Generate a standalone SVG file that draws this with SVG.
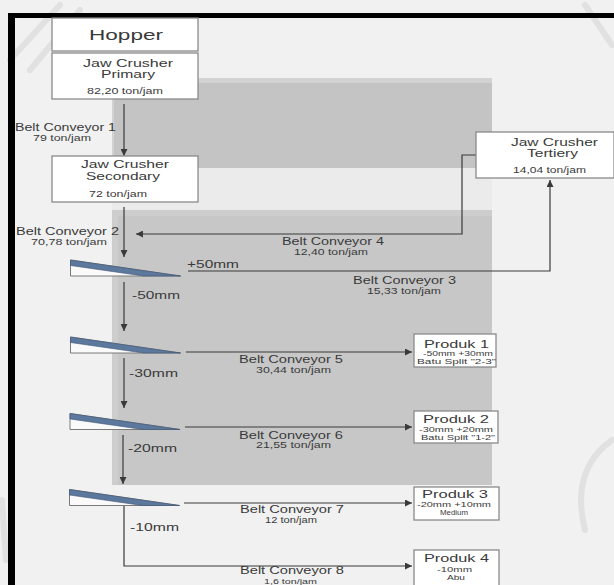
<svg xmlns="http://www.w3.org/2000/svg" width="614" height="585" viewBox="0 0 614 585">
<defs>
<style>
text{font-family:"Liberation Sans",Arial,sans-serif;fill:#3a3a3a;}
.box{fill:#fff;stroke:#8a8a8a;stroke-width:1.3;}
.ln{fill:none;stroke:#3a3a3a;stroke-width:1.2;}
.t1{font-size:15.5px;}
.t2{font-size:11.5px;}
.t3{font-size:8.5px;}
.t4{font-size:10px;}
.t5{font-size:10.5px;}
.t6{font-size:11px;}
.t7{font-size:8px;}
.deco{fill:none;stroke:#c4c4c4;stroke-width:6;stroke-linecap:round;opacity:0.35;}
</style>
<marker id="ah" viewBox="0 0 10 10" refX="10" refY="5" markerWidth="7" markerHeight="7" markerUnits="userSpaceOnUse" orient="auto">
<path d="M0,0 L10,5 L0,10 z" fill="#3a3a3a"/>
</marker>
<g id="screen">
<polygon points="0,0 110,16 0,16" fill="#fafafa" stroke="#7a7a7a" stroke-width="1"/>
<polygon points="0,0 110,16 73,16 0,5.5" fill="#5c789c" stroke="#3e5576" stroke-width="0.6"/>
</g>
</defs>
<!-- background -->
<rect x="0" y="0" width="614" height="585" fill="#f1f1f1"/>
<path class="deco" d="M10,60 L60,5 M30,70 L80,10"/>
<path class="deco" d="M585,5 L612,45"/>
<path class="deco" d="M612,440 Q570,470 585,530"/>
<path class="deco" d="M2,500 L6,560"/>
<rect x="112" y="78" width="380" height="90" fill="#d2d2d2"/>
<rect x="114" y="83" width="378" height="85" fill="#c4c4c4"/>
<rect x="112" y="168" width="380" height="42" fill="#ebebeb"/>
<rect x="112" y="210" width="380" height="275" fill="#cdcdcd"/>
<rect x="118" y="216" width="374" height="269" fill="#c7c7c7"/>
<!-- frame -->
<rect x="8" y="13" width="606" height="5" fill="#000"/>
<rect x="8" y="13" width="7" height="572" fill="#000"/>

<!-- connectors -->
<g id="connectors">
<line class="ln" x1="124" y1="104" x2="124" y2="156" marker-end="url(#ah)"/>
<line class="ln" x1="124" y1="207" x2="124" y2="257" marker-end="url(#ah)"/>
<polyline class="ln" points="476,155 462,155 462,234 136,234" marker-end="url(#ah)"/>
<polyline class="ln" points="188,271 550,271 550,180" marker-end="url(#ah)"/>
<line class="ln" x1="124" y1="282" x2="124" y2="331" marker-end="url(#ah)"/>
<line class="ln" x1="186" y1="352" x2="412" y2="352" marker-end="url(#ah)"/>
<line class="ln" x1="124" y1="358" x2="124" y2="408" marker-end="url(#ah)"/>
<line class="ln" x1="185" y1="427" x2="412" y2="427" marker-end="url(#ah)"/>
<line class="ln" x1="123" y1="435" x2="123" y2="484" marker-end="url(#ah)"/>
<line class="ln" x1="184" y1="503" x2="412" y2="503" marker-end="url(#ah)"/>
<polyline class="ln" points="124,505 124,566 412,566" marker-end="url(#ah)"/>
<text class="t4" x="15" y="131" textLength="101" lengthAdjust="spacingAndGlyphs">Belt Conveyor 1</text>
<text class="t3" x="33" y="141" textLength="58" lengthAdjust="spacingAndGlyphs">79 ton/jam</text>
<text class="t4" x="16" y="235" textLength="103" lengthAdjust="spacingAndGlyphs">Belt Conveyor 2</text>
<text class="t3" x="31" y="245" textLength="76" lengthAdjust="spacingAndGlyphs">70,78 ton/jam</text>
<text class="t4" x="282" y="245" textLength="102" lengthAdjust="spacingAndGlyphs">Belt Conveyor 4</text>
<text class="t3" x="294" y="255" textLength="74" lengthAdjust="spacingAndGlyphs">12,40 ton/jam</text>
<text class="t5" x="187" y="268" textLength="52" lengthAdjust="spacingAndGlyphs">+50mm</text>
<text class="t4" x="353" y="284" textLength="103" lengthAdjust="spacingAndGlyphs">Belt Conveyor 3</text>
<text class="t3" x="367" y="294" textLength="74" lengthAdjust="spacingAndGlyphs">15,33 ton/jam</text>
<text class="t5" x="132" y="299" textLength="48" lengthAdjust="spacingAndGlyphs">-50mm</text>
<text class="t4" x="239" y="363" textLength="104" lengthAdjust="spacingAndGlyphs">Belt Conveyor 5</text>
<text class="t3" x="256" y="373" textLength="75" lengthAdjust="spacingAndGlyphs">30,44 ton/jam</text>
<text class="t5" x="129" y="377" textLength="49" lengthAdjust="spacingAndGlyphs">-30mm</text>
<text class="t4" x="239" y="439" textLength="104" lengthAdjust="spacingAndGlyphs">Belt Conveyor 6</text>
<text class="t3" x="256" y="448" textLength="75" lengthAdjust="spacingAndGlyphs">21,55 ton/jam</text>
<text class="t5" x="128" y="452" textLength="49" lengthAdjust="spacingAndGlyphs">-20mm</text>
<text class="t4" x="240" y="513" textLength="104" lengthAdjust="spacingAndGlyphs">Belt Conveyor 7</text>
<text class="t3" x="265" y="523" textLength="52" lengthAdjust="spacingAndGlyphs">12 ton/jam</text>
<text class="t5" x="130" y="531" textLength="49" lengthAdjust="spacingAndGlyphs">-10mm</text>
<text class="t4" x="240" y="574" textLength="104" lengthAdjust="spacingAndGlyphs">Belt Conveyor 8</text>
<text class="t7" x="264" y="584" textLength="53" lengthAdjust="spacingAndGlyphs">1,6 ton/jam</text>
</g>

<!-- nodes -->
<g id="hopper">
<rect class="box" x="52" y="18" width="146" height="33"/>
<text class="t1" x="89" y="40" textLength="74" lengthAdjust="spacingAndGlyphs">Hopper</text>
</g>
<g id="jaw-primary">
<rect class="box" x="52" y="53" width="146" height="46"/>
<text class="t2" x="83" y="67" textLength="90" lengthAdjust="spacingAndGlyphs">Jaw Crusher</text>
<text class="t2" x="101" y="78" textLength="54" lengthAdjust="spacingAndGlyphs">Primary</text>
<text class="t3" x="87" y="94" textLength="76" lengthAdjust="spacingAndGlyphs">82,20 ton/jam</text>
</g>
<g id="jaw-secondary">
<rect class="box" x="52" y="156" width="146" height="46"/>
<text class="t2" x="81" y="168" textLength="88" lengthAdjust="spacingAndGlyphs">Jaw Crusher</text>
<text class="t2" x="86" y="180" textLength="74" lengthAdjust="spacingAndGlyphs">Secondary</text>
<text class="t3" x="89" y="197" textLength="58" lengthAdjust="spacingAndGlyphs">72 ton/jam</text>
</g>
<g id="jaw-tertiery">
<rect class="box" x="476" y="132" width="138" height="46"/>
<text class="t2" x="511" y="146" textLength="87" lengthAdjust="spacingAndGlyphs">Jaw Crusher</text>
<text class="t2" x="527" y="157" textLength="51" lengthAdjust="spacingAndGlyphs">Tertiery</text>
<text class="t3" x="513" y="173" textLength="73" lengthAdjust="spacingAndGlyphs">14,04 ton/jam</text>
</g>
<g id="screen1"><use href="#screen" x="70.5" y="260"/></g>
<g id="screen2"><use href="#screen" x="70.5" y="337"/></g>
<g id="screen3"><use href="#screen" x="70" y="413.5"/></g>
<g id="screen4"><use href="#screen" x="69.5" y="489.5"/></g>
<g id="produk1">
<rect class="box" x="414" y="334" width="82" height="33"/>
<text class="t6" x="424" y="348" textLength="65" lengthAdjust="spacingAndGlyphs">Produk 1</text>
<text class="t7" x="423" y="356" textLength="70" lengthAdjust="spacingAndGlyphs">-50mm +30mm</text>
<text class="t7" x="417" y="364" textLength="79" lengthAdjust="spacingAndGlyphs">Batu Split "2-3"</text>
</g>
<g id="produk2">
<rect class="box" x="414" y="411" width="84" height="32"/>
<text class="t6" x="423" y="423" textLength="66" lengthAdjust="spacingAndGlyphs">Produk 2</text>
<text class="t7" x="419" y="432" textLength="74" lengthAdjust="spacingAndGlyphs">-30mm +20mm</text>
<text class="t7" x="421" y="440" textLength="74" lengthAdjust="spacingAndGlyphs">Batu Split "1-2"</text>
</g>
<g id="produk3">
<rect class="box" x="414" y="487" width="85" height="33"/>
<text class="t6" x="422" y="498" textLength="66" lengthAdjust="spacingAndGlyphs">Produk 3</text>
<text class="t7" x="417" y="507" textLength="74" lengthAdjust="spacingAndGlyphs">-20mm +10mm</text>
<text class="t7" x="440" y="515" textLength="28" lengthAdjust="spacingAndGlyphs">Medium</text>
</g>
<g id="produk4">
<rect class="box" x="414" y="550" width="85" height="40"/>
<text class="t6" x="424" y="562" textLength="65" lengthAdjust="spacingAndGlyphs">Produk 4</text>
<text class="t7" x="437" y="572" textLength="35" lengthAdjust="spacingAndGlyphs">-10mm</text>
<text class="t7" x="447" y="580" textLength="18" lengthAdjust="spacingAndGlyphs">Abu</text>
</g>
</svg>
